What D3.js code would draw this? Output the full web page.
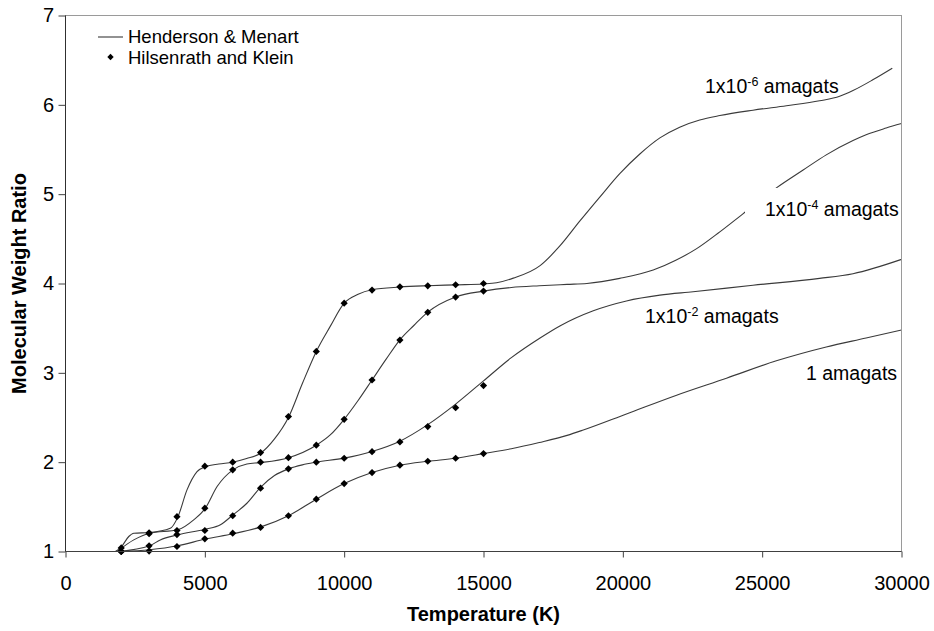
<!DOCTYPE html>
<html>
<head>
<meta charset="utf-8">
<script src="https://cdn.jsdelivr.net/npm/d3@7"></script>
<style>
  html, body { margin: 0; padding: 0; background: #fff; }
  svg { display: block; font-family: "Liberation Sans", Arial, sans-serif; }
</style>
</head>
<body>
<svg id="chart" width="934" height="631"></svg>
<script>
// Temperature ticks and ratio ticks
const xTicks = [0, 5000, 10000, 15000, 20000, 25000, 30000];
const yTicks = [1, 2, 3, 4, 5, 6, 7];

// Hilsenrath and Klein tabulated points (temperature, K)
const hkTemps = [2000, 3000, 4000, 5000, 6000, 7000, 8000, 9000, 10000, 11000, 12000, 13000, 14000, 15000];
const hk_1e6 = [1.04, 1.21, 1.39, 1.955, 2.0, 2.107, 2.51, 3.24, 3.78, 3.926, 3.963, 3.974, 3.986, 4.0];
const hk_1e4 = [1.0, 1.2, 1.235, 1.485, 1.914, 2.0, 2.05, 2.19, 2.48, 2.92, 3.367, 3.677, 3.848, 3.915];
const hk_1e2 = [1.0, 1.064, 1.19, 1.235, 1.40, 1.709, 1.925, 2.0, 2.044, 2.118, 2.227, 2.398, 2.61, 2.857];
const hk_1 = [1.0, 1.005, 1.056, 1.142, 1.205, 1.27, 1.40, 1.586, 1.76, 1.884, 1.966, 2.01, 2.044, 2.096];

// Henderson & Menart curves
const hmT_1e6 = [1790, 2000, 2270, 2450, 3020, 3760, 4030, 4360, 4720, 5020, 5500, 6000, 6500, 7000, 7500, 8000, 8500, 9000, 9500, 10000, 10500, 11000, 12000, 13000, 14000, 15000, 15470, 16070, 17030, 17740, 18460, 19180, 19890, 20610, 21330, 22040, 22760, 23480, 24670, 25870, 27060, 27780, 28260, 28970, 29670];
const hmV_1e6 = [1.0, 1.05, 1.168, 1.205, 1.213, 1.26, 1.385, 1.69, 1.895, 1.95, 1.98, 2.0, 2.04, 2.1, 2.26, 2.5, 2.88, 3.24, 3.52, 3.78, 3.88, 3.93, 3.96, 3.975, 3.985, 3.995, 4.008, 4.06, 4.2, 4.42, 4.7, 4.97, 5.23, 5.45, 5.63, 5.75, 5.83, 5.88, 5.94, 5.99, 6.045, 6.095, 6.16, 6.28, 6.41];

const hmT_1e4 = [1850, 2450, 3020, 4030, 4600, 5020, 5440, 6010, 6510, 6990, 8000, 9000, 9500, 10000, 10500, 11000, 11500, 12000, 12500, 13000, 14000, 15000, 16000, 17000, 18000, 18710, 19890, 21090, 21900, 22650, 23480, 24310, 25510, 26470, 27300, 28260, 28730, 29450, 30000];
const hmV_1e4 = [1.0, 1.13, 1.205, 1.243, 1.354, 1.485, 1.727, 1.914, 1.98, 1.995, 2.05, 2.19, 2.305, 2.48, 2.69, 2.92, 3.15, 3.37, 3.53, 3.68, 3.85, 3.915, 3.955, 3.975, 3.99, 4.0, 4.057, 4.15, 4.26, 4.39, 4.578, 4.78, 5.07, 5.27, 5.44, 5.6, 5.665, 5.74, 5.79];

const hmT_1e2 = [1910, 3020, 3400, 4030, 5020, 5560, 6010, 6510, 6990, 7500, 8000, 8500, 9000, 10000, 11000, 12000, 13000, 14000, 15000, 16000, 17030, 17740, 18940, 20130, 21330, 22520, 24670, 27060, 28260, 30000];
const hmV_1e2 = [1.0, 1.064, 1.13, 1.187, 1.25, 1.3, 1.41, 1.54, 1.716, 1.85, 1.925, 1.97, 2.0, 2.045, 2.12, 2.235, 2.42, 2.65, 2.91, 3.17, 3.39, 3.525, 3.695, 3.805, 3.87, 3.907, 3.98, 4.057, 4.11, 4.27];

const hmT_1 = [1970, 3020, 4030, 5020, 6010, 6990, 8000, 9000, 10000, 11000, 12000, 13000, 14000, 15000, 16000, 17000, 18000, 18580, 20130, 21930, 23720, 25510, 27300, 28730, 30000];
const hmV_1 = [1.0, 1.02, 1.064, 1.139, 1.198, 1.273, 1.40, 1.586, 1.76, 1.884, 1.966, 2.01, 2.044, 2.096, 2.15, 2.22, 2.3, 2.36, 2.54, 2.75, 2.94, 3.135, 3.29, 3.39, 3.48];

const legendNames = ["Henderson & Menart", "Hilsenrath and Klein"];
const curveLabels = [
  { lead: "1x10", sup: "-6", tail: " amagats", x: 705, y: 92.5, knockout: false },
  { lead: "1x10", sup: "-4", tail: " amagats", x: 765, y: 216, knockout: true },
  { lead: "1x10", sup: "-2", tail: " amagats", x: 645, y: 322.5, knockout: false },
  { lead: "1 amagats", sup: "", tail: "", x: 806, y: 380, knockout: false }
];

const svg = d3.select("#chart");
const W = 934, H = 631;
const plot = { left: 65.5, right: 901.5, top: 15.5, bottom: 551.5 };

svg.append("rect").attr("width", W).attr("height", H).attr("fill", "#fff");

const x = d3.scaleLinear().domain([0, 30000]).range([plot.left, plot.right]);
const y = d3.scaleLinear().domain([1, 7]).range([plot.bottom, plot.top]);

// plot-area frame
svg.append("rect")
  .attr("x", plot.left).attr("y", plot.top)
  .attr("width", plot.right - plot.left).attr("height", plot.bottom - plot.top)
  .attr("fill", "none").attr("stroke", "#9a9a9a").attr("stroke-width", 1);

// curves
const line = d3.line()
  .x(d => x(d[0])).y(d => y(d[1]))
  .curve(d3.curveMonotoneX);

const hmSeries = [
  [hmT_1e6, hmV_1e6], [hmT_1e4, hmV_1e4], [hmT_1e2, hmV_1e2], [hmT_1, hmV_1]
];
svg.append("g").selectAll("path")
  .data(hmSeries.map(([t, v]) => t.map((tt, i) => [tt, v[i]])))
  .join("path")
  .attr("d", line)
  .attr("fill", "none")
  .attr("stroke", "#3a3a3a")
  .attr("stroke-width", 1.1);

// diamonds
const diamond = r => `M0,${-r}L${r},0L0,${r}L${-r},0Z`;
const hkSeries = [hk_1e6, hk_1e4, hk_1e2, hk_1];
const pts = hkSeries.flatMap(vals => vals.map((v, i) => [hkTemps[i], v]));
svg.append("g").selectAll("path")
  .data(pts)
  .join("path")
  .attr("d", diamond(3.6))
  .attr("transform", d => `translate(${x(d[0])},${y(d[1])})`)
  .attr("fill", "#000");

// curve labels
const labelG = svg.append("g").attr("font-size", 19.5).attr("fill", "#000");
curveLabels.forEach(c => {
  if (c.knockout) {
    labelG.append("rect")
      .attr("x", c.x - 20).attr("y", c.y - 28)
      .attr("width", plot.right - (c.x - 20)).attr("height", 38)
      .attr("fill", "#fff");
  }
  const t = labelG.append("text").attr("x", c.x).attr("y", c.y);
  t.append("tspan").text(c.lead);
  if (c.sup) {
    t.append("tspan").attr("dy", -7).attr("font-size", 12.5).text(c.sup);
    t.append("tspan").attr("dy", 7).text(c.tail);
  }
});

// redraw right frame edge over label knockouts
svg.append("line")
  .attr("x1", plot.right).attr("x2", plot.right)
  .attr("y1", plot.top).attr("y2", plot.bottom)
  .attr("stroke", "#9a9a9a");

// axes
const xAxis = d3.axisBottom(x).tickValues(xTicks).tickSize(6).tickPadding(18).tickFormat(d3.format("d"));
const gx = svg.append("g").attr("transform", `translate(0,${plot.bottom})`).call(xAxis);
gx.select(".domain").attr("stroke", "#404040").attr("d", `M${plot.left},0H${plot.right}`);
gx.selectAll(".tick line").attr("stroke", "#404040");
gx.selectAll("text").attr("font-size", 20).attr("fill", "#000")
  .attr("font-family", "'Liberation Sans', Arial, sans-serif");

const yAxis = d3.axisLeft(y).tickValues(yTicks).tickSize(7).tickPadding(4.5).tickFormat(d3.format("d"));
const gy = svg.append("g").attr("transform", `translate(${plot.left},0)`).call(yAxis);
gy.select(".domain").attr("stroke", "#303030").attr("d", `M0,${plot.top}V${plot.bottom}`);
gy.selectAll(".tick line").attr("stroke", "#404040");
gy.selectAll("text").attr("font-size", 20).attr("fill", "#000")
  .attr("font-family", "'Liberation Sans', Arial, sans-serif");

// axis titles
svg.append("text")
  .attr("x", (plot.left + plot.right) / 2).attr("y", 621)
  .attr("text-anchor", "middle").attr("font-size", 20).attr("font-weight", "bold")
  .text("Temperature (K)");
svg.append("text")
  .attr("transform", `translate(26,${(plot.top + plot.bottom) / 2}) rotate(-90)`)
  .attr("text-anchor", "middle").attr("font-size", 20).attr("font-weight", "bold")
  .text("Molecular Weight Ratio");

// legend
const lg = svg.append("g").attr("font-size", 18.5);
lg.append("line").attr("x1", 98).attr("x2", 123).attr("y1", 37).attr("y2", 37)
  .attr("stroke", "#3a3a3a").attr("stroke-width", 1.1);
lg.append("text").attr("x", 128).attr("y", 42.5).text(legendNames[0]);
lg.append("path").attr("d", diamond(3.2)).attr("transform", "translate(110.5,57)").attr("fill", "#000");
lg.append("text").attr("x", 128).attr("y", 64).text(legendNames[1]);
</script>
</body>
</html>
